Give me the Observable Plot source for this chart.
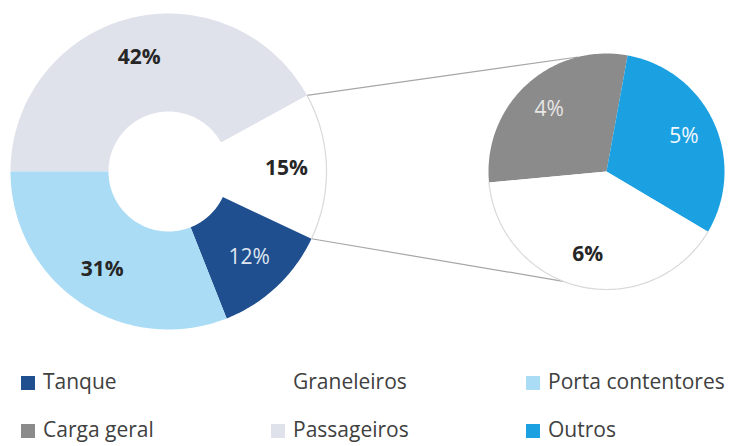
<!DOCTYPE html>
<html><head><meta charset="utf-8">
<script src="https://cdn.jsdelivr.net/npm/d3@7"></script>
<script src="https://cdn.jsdelivr.net/npm/@observablehq/plot@0.6"></script>
<style>
body{margin:0;background:#fff;font-family:"Open Sans",sans-serif;}
#chart{width:736px;height:350px;}
#legend{position:relative;width:736px;height:96px;overflow:hidden}
.item{position:absolute;display:flex;align-items:center;font-size:21px;color:#404040;line-height:22px;white-space:nowrap}
.sw{width:14px;height:14px;margin-right:8px;margin-top:3px}
</style></head><body><div id="chart"></div><div id="legend"></div>
<script>
// ---- data ----
const mainCategories = ["Passageiros", "Outros tipos", "Tanque", "Porta contentores"];
const mainValues = [42, 15, 12, 31];
const mainLabels = ["42%", "15%", "12%", "31%"];
const subCategories = ["Carga geral", "Outros", "Graneleiros"];
const subValues = [4.4, 4.6, 6.0];
const subLabels = ["4%", "5%", "6%"];
const legendCategories = ["Tanque", "Graneleiros", "Porta contentores", "Carga geral", "Passageiros", "Outros"];

// ---- styles / layout ----
const colors = {
  "Passageiros": "#dfe2ea",
  "Outros tipos": "#ffffff",
  "Tanque": "#1f4f8f",
  "Porta contentores": "#aadcf5",
  "Carga geral": "#8b8b8b",
  "Outros": "#1ba1e2",
  "Graneleiros": "#ffffff"
};
const labelStyle = {
  "Passageiros": ["#262626", "bold"],
  "Outros tipos": ["#262626", "bold"],
  "Tanque": ["#dfe6f0", "normal"],
  "Porta contentores": ["#262626", "bold"],
  "Carga geral": ["#e6e6e6", "normal"],
  "Outros": ["#f4f8fc", "normal"],
  "Graneleiros": ["#262626", "bold"]
};
const W = 736, H = 350;
const main = {cx: 168, cy: 171, R: 158, r: 60, start: 270, labelR: 118};
const sub = {cx: 606, cy: 171, R: 118, r: 0, start: 264.7, labelR: 85};
const connectorEndAngles = [346, 201.5];
const rad = d => d * Math.PI / 180;

function pt(c, radius, a) { return {x: c.cx + radius * Math.sin(a), y: c.cy - radius * Math.cos(a)}; }

function slices(c, cats, vals, labels) {
  const arcs = d3.pie().sort(null).startAngle(rad(c.start)).endAngle(rad(c.start) + 2 * Math.PI)(vals);
  return arcs.map((a, i) => ({cat: cats[i], label: labels[i], a0: a.startAngle, a1: a.endAngle, c}));
}
function polygon(s) {
  const {c, a0, a1} = s, pts = [];
  const n = Math.max(2, Math.ceil((a1 - a0) / rad(1)));
  for (let k = 0; k <= n; k++) pts.push({...pt(c, c.R, a0 + (a1 - a0) * k / n), key: s.cat, color: colors[s.cat]});
  if (c.r > 0) for (let k = n; k >= 0; k--) pts.push({...pt(c, c.r, a0 + (a1 - a0) * k / n), key: s.cat, color: colors[s.cat]});
  else pts.push({x: c.cx, y: c.cy, key: s.cat, color: colors[s.cat]});
  return pts;
}
function outerArc(s) {
  const {c, a0, a1} = s, pts = [];
  const n = Math.max(2, Math.ceil((a1 - a0) / rad(1)));
  for (let k = 0; k <= n; k++) pts.push({...pt(c, c.R, a0 + (a1 - a0) * k / n), key: s.cat});
  return pts;
}

const mainSlices = slices(main, mainCategories, mainValues, mainLabels);
const subSlices = slices(sub, subCategories, subValues, subLabels);
const allSlices = [...mainSlices, ...subSlices];
const polys = allSlices.flatMap(polygon);
const outlines = allSlices.filter(s => colors[s.cat] === "#ffffff").flatMap(outerArc);
const labels = allSlices.map(s => {
  const p = pt(s.c, s.c.labelR, (s.a0 + s.a1) / 2);
  return {...p, text: s.label, fill: labelStyle[s.cat][0], weight: labelStyle[s.cat][1]};
});
const group = mainSlices.find(s => s.cat === "Outros tipos");
const links = [
  {p1: pt(main, main.R, group.a0), p2: pt(sub, sub.R, rad(connectorEndAngles[0]))},
  {p1: pt(main, main.R, group.a1), p2: pt(sub, sub.R, rad(connectorEndAngles[1]))}
].map(d => ({x1: d.p1.x, y1: d.p1.y, x2: d.p2.x, y2: d.p2.y}));

const font = "Open Sans, sans-serif";
const chart = Plot.plot({
  width: W, height: H, margin: 0,
  x: {domain: [0, W], range: [0, W], axis: null},
  y: {domain: [0, H], range: [0, H], axis: null},
  color: {type: "identity"},
  style: {background: "#fff", overflow: "visible"},
  marks: [
    Plot.link(links, {x1: "x1", y1: "y1", x2: "x2", y2: "y2", stroke: "#a6a6a6", strokeWidth: 1.2}),
    Plot.line(polys, {x: "x", y: "y", z: "key", fill: "color", stroke: null}),
    Plot.line(outlines, {x: "x", y: "y", z: "key", stroke: "#d9d9d9", strokeWidth: 1.2}),
    Plot.text(labels.filter(d => d.weight === "bold"), {x: "x", y: "y", text: "text", fill: "fill", fontSize: 21, fontWeight: "bold", fontFamily: font}),
    Plot.text(labels.filter(d => d.weight !== "bold"), {x: "x", y: "y", text: "text", fill: "fill", fontSize: 21, fontWeight: "normal", fontFamily: font})
  ]
});
document.getElementById("chart").appendChild(chart);

// legend
const legendX = [21, 271, 526], legendY = [20, 68];
const leg = document.getElementById("legend");
legendCategories.forEach((cat, i) => {
  const el = document.createElement("div");
  el.className = "item";
  el.style.left = legendX[i % 3] + "px";
  el.style.top = legendY[Math.floor(i / 3)] + "px";
  const sw = document.createElement("span");
  sw.className = "sw";
  sw.style.background = colors[cat];
  const tx = document.createElement("span");
  tx.textContent = cat;
  el.appendChild(sw); el.appendChild(tx);
  leg.appendChild(el);
});
</script></body></html>
